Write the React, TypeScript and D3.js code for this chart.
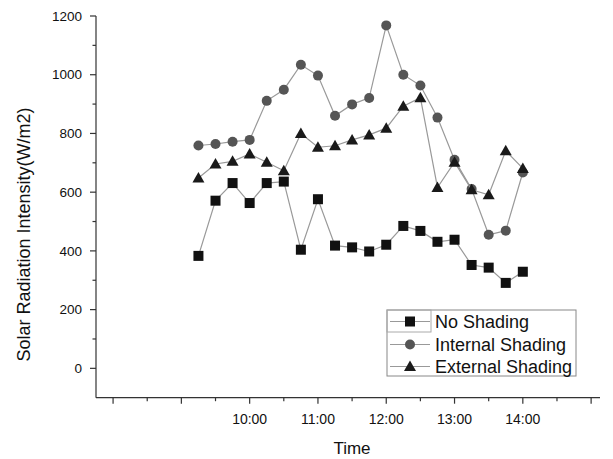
import React from "react";
import * as d3 from "d3";

const times = [9.25, 9.5, 9.75, 10, 10.25, 10.5, 10.75, 11, 11.25, 11.5, 11.75, 12, 12.25, 12.5, 12.75, 13, 13.25, 13.5, 13.75, 14];
const noShading = [383, 571, 631, 563, 631, 636, 404, 576, 418, 412, 398, 421, 485, 468, 431, 438, 352, 343, 291, 329];
const internalShading = [759, 764, 772, 778, 911, 949, 1034, 997, 860, 899, 921, 1168, 1000, 963, 854, 710, 611, 455, 469, 667];
const externalShading = [648, 696, 705, 730, 702, 673, 800, 753, 758, 778, 795, 818, 893, 922, 616, 702, 608, 591, 741, 681];
const yTicks = [0, 200, 400, 600, 800, 1000, 1200];
const yMinor = [100, 300, 500, 700, 900, 1100];
const xMajor = [8, 9, 10, 11, 12, 13, 14, 15];
const xMinor = [8.5, 9.5, 10.5, 11.5, 12.5, 13.5, 14.5];
const xLabels: Record<number, string> = { 10: "10:00", 11: "11:00", 12: "12:00", 13: "13:00", 14: "14:00" };
const seriesNames = ["No Shading", "Internal Shading", "External Shading"];

const x = d3.scaleLinear().domain([7.75, 15.13]).range([96, 600]);
const y = d3.scaleLinear().domain([-100, 1200]).range([397.7, 16]);

const font = "Arial, 'Liberation Sans', sans-serif";

function Marker({ kind, cx, cy }: { kind: number; cx: number; cy: number }) {
  if (kind === 0) return <rect x={cx - 5} y={cy - 5} width={10} height={10} fill="#111" />;
  if (kind === 1) return <circle cx={cx} cy={cy} r={5} fill="#555" />;
  const s = 6;
  return <path d={`M${cx},${cy - s} L${cx + s},${cy + s * 0.75} L${cx - s},${cy + s * 0.75} Z`} fill="#1a1a1a" />;
}

export default function App() {
  const series = [noShading, internalShading, externalShading];
  const line = d3.line<number>().x((_, i) => x(times[i])).y((d) => y(d));
  const x0 = 96, yb = 397.7;
  return (
    <svg width={613} height={459} style={{ position: "absolute", left: 0, top: 0, background: "#fff" }} fontFamily={font}>
      <rect width={613} height={459} fill="#fff" />
      {/* axes */}
      <line x1={x0} y1={y(1200)} x2={x0} y2={yb} stroke="#333" strokeWidth={1.2} />
      <line x1={x0} y1={yb} x2={600} y2={yb} stroke="#333" strokeWidth={1.2} />
      {yTicks.map((t) => (
        <g key={"y" + t}>
          <line x1={x0 - 6} x2={x0} y1={y(t)} y2={y(t)} stroke="#333" strokeWidth={1.2} />
          <text x={82} y={y(t)} dy="0.35em" textAnchor="end" fontSize={13.5} fill="#111">{t}</text>
        </g>
      ))}
      {yMinor.map((t) => (
        <line key={"ym" + t} x1={x0 - 3.5} x2={x0} y1={y(t)} y2={y(t)} stroke="#333" strokeWidth={1.2} />
      ))}
      {xMajor.map((t) => (
        <g key={"x" + t}>
          <line x1={x(t)} x2={x(t)} y1={yb} y2={yb + 6} stroke="#333" strokeWidth={1.2} />
          {xLabels[t] && (
            <text x={x(t)} y={424} textAnchor="middle" fontSize={14} fill="#111">{xLabels[t]}</text>
          )}
        </g>
      ))}
      {xMinor.map((t) => (
        <line key={"xm" + t} x1={x(t)} x2={x(t)} y1={yb} y2={yb + 3.5} stroke="#333" strokeWidth={1.2} />
      ))}
      <text x={352} y={454} textAnchor="middle" fontSize={17} fill="#111">Time</text>
      <text transform="translate(30,234.5) rotate(-90)" textAnchor="middle" fontSize={18} fill="#111">
        Solar Radiation Intensity(W/m2)
      </text>
      {/* series */}
      {series.map((s, k) => (
        <g key={"s" + k}>
          <path d={line(s) || ""} fill="none" stroke="#999" strokeWidth={1.2} />
          {s.map((v, i) => (
            <Marker key={i} kind={k} cx={x(times[i])} cy={y(v)} />
          ))}
        </g>
      ))}
      {/* legend */}
      <rect x={387} y={310} width={189} height={66} fill="#fff" stroke="#888" strokeWidth={1} />
      <rect x={387} y={310} width={44} height={22} fill="none" stroke="#aaa" strokeWidth={1} />
      {seriesNames.map((n, k) => {
        const cy = [321.5, 344.5, 366.5][k];
        return (
          <g key={"l" + k}>
            <line x1={390} x2={430} y1={cy} y2={cy} stroke="#999" strokeWidth={1.2} />
            <Marker kind={k} cx={410} cy={cy} />
            <text x={435} y={cy} dy="0.36em" fontSize={18} fill="#111">{n}</text>
          </g>
        );
      })}
    </svg>
  );
}
